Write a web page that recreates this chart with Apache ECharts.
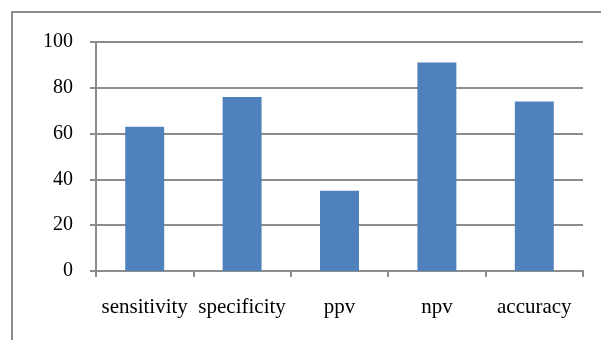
<!DOCTYPE html>
<html>
<head>
<meta charset="utf-8">
<script src="https://cdn.jsdelivr.net/npm/echarts@6/dist/echarts.min.js"></script>
<style>
  html, body { margin: 0; padding: 0; background: #fff; }
  #chart { width: 601px; height: 340px; }
</style>
</head>
<body>
<div id="chart"></div>
<script>
// Diagnostic performance measures (%)
const categories = ['sensitivity', 'specificity', 'ppv', 'npv', 'accuracy'];
const values = [63, 76, 35, 91, 74];
const yTicks = { min: 0, max: 100, step: 20 };

const FONT = '"Liberation Serif", "Times New Roman", serif';
const GRAY = '#8c8c8c';

const chart = echarts.init(document.getElementById('chart'), null, { renderer: 'canvas' });
chart.setOption({
  animation: false,
  backgroundColor: '#fff',
  graphic: [{
    type: 'rect',
    shape: { x: 12, y: 12, width: 700, height: 400 },
    style: { fill: 'none', stroke: GRAY, lineWidth: 2 },
    silent: true
  }],
  grid: { left: 96, right: 18, top: 42, bottom: 69 },
  xAxis: {
    type: 'category',
    data: categories,
    axisLine: { lineStyle: { color: GRAY, width: 2 } },
    axisTick: { show: true, interval: 0, length: 6, lineStyle: { color: GRAY, width: 2 } },
    axisLabel: { interval: 0, color: '#000', fontFamily: FONT, fontSize: 21, margin: 26 }
  },
  yAxis: {
    type: 'value',
    min: yTicks.min,
    max: yTicks.max,
    interval: yTicks.step,
    axisLine: { show: true, lineStyle: { color: GRAY, width: 2 } },
    axisTick: { show: true, length: 6, lineStyle: { color: GRAY, width: 2 } },
    splitLine: { lineStyle: { color: GRAY, width: 2 } },
    axisLabel: { color: '#000', fontFamily: FONT, fontSize: 20, margin: 23 }
  },
  series: [{
    type: 'bar',
    data: values,
    barWidth: '40%',
    itemStyle: { color: '#4F81BD' }
  }]
});
</script>
</body>
</html>
